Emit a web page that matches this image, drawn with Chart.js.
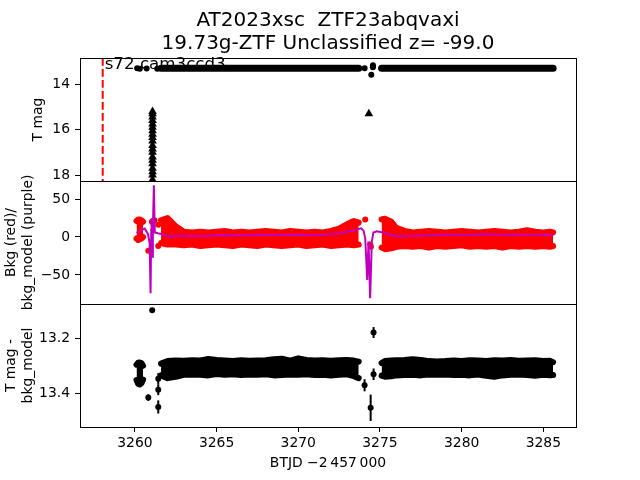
<!DOCTYPE html>
<html>
<head>
<meta charset="utf-8">
<script src="https://cdn.jsdelivr.net/npm/chart.js@4.4.0/dist/chart.umd.min.js"></script>
<style>
  html, body { margin: 0; padding: 0; background: #fff; }
  #wrap { position: relative; width: 640px; height: 480px; }
  #wrap canvas { position: absolute; left: 0; top: 0; }
</style>
</head>
<body>
<div id="wrap">
  <canvas id="c1" width="640" height="480"></canvas>
  <canvas id="c2" width="640" height="480"></canvas>
  <canvas id="c3" width="640" height="480"></canvas>
</div>
<script>
// axis ranges
const dayRange = [3256.64, 3287.0];
const magRange = [12.85, 18.26];
const bkgRange = [-88.2, 73.7];
const detRange = [13.075, 13.523];

const titleLines = ['AT2023xsc  ZTF23abqvaxi', '19.73g-ZTF Unclassified z= -99.0'];
const xTitle = 'BTJD \u22122\u2009457\u2009000';

// top panel: sector marker, photometry row, upper limits
const sectorDay = 3258.03;
const sectorLabel = 's72 cam3ccd3';
const sectorLabelAt = [3258.15, 13.33];
const rowDays = [3261.6, 3273.7, 3275.1, 3285.6];
const rowMag = [13.30, 13.30, 13.30, 13.30];
const dotDays = [3260.14, 3260.3, 3260.72, 3261.37, 3274.06, 3274.57, 3274.57, 3274.47];
const dotMag = [13.30, 13.32, 13.31, 13.32, 13.30, 13.17, 13.26, 13.59];
const limDays = [3261.08, 3261.08, 3261.08, 3261.08, 3261.08, 3261.08, 3261.08, 3261.08, 3261.08, 3261.08,
                 3261.08, 3261.08, 3261.08, 3261.08, 3261.08, 3261.08, 3261.08, 3261.08, 3261.08, 3261.08, 3274.32];
const limMag = [15.2, 15.3, 15.45, 15.6, 15.75, 15.9, 16.05, 16.2, 16.35, 16.5,
                16.7, 16.85, 17.0, 17.2, 17.35, 17.5, 17.7, 17.85, 18.0, 18.2, 15.3];

// envelopes of the dense scatter (two orbits)
const earlyDays = [3260.1, 3260.2, 3260.3, 3260.4, 3260.5];
const segADays = [3261.6, 3262.0, 3262.5, 3263.0, 3263.5, 3264.0, 3264.5, 3265.0, 3265.5, 3266.0, 3266.5, 3267.0, 3267.5,
                  3268.0, 3268.5, 3269.0, 3269.5, 3270.0, 3270.5, 3271.0, 3271.5, 3272.0, 3272.5, 3273.0, 3273.4, 3273.7];
const segBDays = [3275.1, 3275.3, 3275.7, 3276.0, 3276.5, 3277.0, 3277.5, 3278.0, 3278.5, 3279.0, 3279.5, 3280.0,
                  3280.5, 3281.0, 3281.5, 3282.0, 3282.5, 3283.0, 3283.5, 3284.0, 3284.5, 3285.0, 3285.4, 3285.6];

// middle panel: background (red) and model (purple)
const bkgEarlyTop = [21, 23, 23, 22, 20];
const bkgEarlyBot = [-2, -4, -3, -2, 0];
const bkgATop = [22, 25, 14, 7, 6, 7, 6, 7, 8, 6, 7, 6, 7, 8, 7, 6, 8, 7, 6, 7, 6, 8, 11, 17, 21, 19];
const bkgABot = [-8, -10, -10, -11, -10, -12, -11, -10, -11, -12, -10, -11, -12, -10, -11, -12, -11, -10, -12, -11, -10, -12, -11, -10, -11, -10];
const bkgBTop = [23, 24, 20, 12, 8, 6, 7, 8, 7, 6, 7, 8, 7, 6, 7, 8, 7, 6, 7, 9, 7, 6, 7, 6];
const bkgBBot = [-14, -16, -15, -13, -12, -13, -12, -14, -12, -13, -12, -11, -13, -12, -13, -12, -14, -12, -13, -12, -13, -12, -13, -12];
const bkgDotDays = [3260.82, 3261.04, 3261.2, 3261.43, 3261.43, 3274.1, 3274.4, 3274.45];
const bkgDotVals = [-18, 20, 22, -12, 16, 23, -10, -13];
const modelDays = [3260.1, 3260.4, 3260.6, 3260.8, 3260.9, 3260.96, 3261.0, 3261.02, 3261.06, 3261.1, 3261.16, 3261.22,
                   3261.4, 3261.7, 3262.1, 3262.6, 3263.5, 3264.5, 3265.5, 3266.5, 3267.5, 3268.5, 3269.5, 3270.5,
                   3271.5, 3272.2, 3272.8, 3273.4, 3273.86, 3274.0, 3274.1, 3274.22, 3274.3, 3274.4, 3274.5, 3274.6,
                   3274.8, 3275.2, 3275.6, 3276.0, 3276.6, 3277.5, 3278.5, 3279.5, 3280.5, 3281.5, 3282.5, 3283.5, 3284.5, 3285.6];
const modelVals = [5.5, 9, 11, 4, -8, -74, 10, 24.6, -26, 10, 68, 6,
                   5, 3.5, 0.5, 1.5, 1, 1.5, 2.5, 2, 3, 2.5, 3, 2.5,
                   3, 4, 6, 9, 11.4, 8, -2, -56.6, -6, -80.7, -6, 6,
                   7.5, 6, 3, 1, 1, 2, 2.5, 3, 3, 3.5, 3, 3, 3, 3];

// bottom panel: T mag - bkg_model
const detEarlyTop = [13.296, 13.289, 13.288, 13.29, 13.30];
const detEarlyBot = [13.352, 13.366, 13.368, 13.364, 13.35];
const detATop = [13.292, 13.283, 13.281, 13.282, 13.280, 13.281, 13.275, 13.279, 13.281, 13.283, 13.280, 13.282, 13.281,
                 13.280, 13.276, 13.274, 13.281, 13.273, 13.279, 13.281, 13.280, 13.282, 13.280, 13.279, 13.281, 13.285];
const detABot = [13.335, 13.345, 13.340, 13.333, 13.332, 13.333, 13.335, 13.330, 13.333, 13.331, 13.334, 13.332, 13.333,
                 13.331, 13.335, 13.334, 13.332, 13.333, 13.331, 13.334, 13.333, 13.335, 13.333, 13.331, 13.338, 13.345];
const detBTop = [13.29, 13.283, 13.281, 13.28, 13.279, 13.276, 13.279, 13.283, 13.284, 13.283, 13.281, 13.283,
                 13.28, 13.281, 13.283, 13.28, 13.281, 13.279, 13.282, 13.281, 13.28, 13.283, 13.282, 13.287];
const detBBot = [13.336, 13.34, 13.338, 13.335, 13.334, 13.333, 13.335, 13.332, 13.333, 13.332, 13.334, 13.333,
                 13.335, 13.332, 13.336, 13.34, 13.335, 13.333, 13.332, 13.334, 13.336, 13.333, 13.335, 13.334];
const detDotDays = [3261.06, 3260.82, 3261.43, 3261.43, 3261.43, 3274.06, 3274.43, 3274.61, 3274.61];
const detDotMag = [13.098, 13.416, 13.347, 13.387, 13.45, 13.371, 13.453, 13.179, 13.331];
const detDotErr = [0.003, 0.012, 0.02, 0.02, 0.024, 0.022, 0.048, 0.02, 0.021];

const RED = '#ff0000', PURPLE = '#bf00bf', BLACK = '#000000';
const FS = 13.9;

Chart.defaults.font.family = "'DejaVu Sans', sans-serif";
Chart.defaults.font.size = FS;
Chart.defaults.color = BLACK;

const pts = (xs, ys) => xs.map((x, i) => ({ x: x, y: ys[i] }));

function band(days, top, bot, color) {
  const line = { type: 'line', borderColor: color, backgroundColor: color, borderWidth: 6, pointRadius: 0,
                 tension: 0, borderJoinStyle: 'round', borderCapStyle: 'round', order: 2, clip: 0 };
  return [
    Object.assign({}, line, { data: pts(days, top), fill: false }),
    Object.assign({}, line, { data: pts(days, bot), fill: '-1' })
  ];
}

function dots(xs, ys, color, extra) {
  return Object.assign({ type: 'scatter', data: pts(xs, ys), backgroundColor: color, borderColor: color,
                         pointRadius: 3, borderWidth: 0, order: 1, clip: 0 }, extra || {});
}

const frame = {
  id: 'frame',
  afterDraw(chart) {
    const { ctx, chartArea: a } = chart;
    ctx.save();
    ctx.strokeStyle = BLACK;
    ctx.lineWidth = 1;
    ctx.strokeRect(a.left + 0.5, a.top + 0.5, a.right - a.left, a.bottom - a.top);
    ctx.restore();
  }
};

const errorBars = {
  id: 'errorBars',
  afterDatasetsDraw(chart) {
    const { ctx, scales: { x, y } } = chart;
    chart.data.datasets.forEach(ds => {
      if (!ds.errs) return;
      ctx.save();
      ctx.strokeStyle = ds.borderColor;
      ctx.lineWidth = 2;
      ds.data.forEach((p, j) => {
        const px = x.getPixelForValue(p.x);
        ctx.beginPath();
        ctx.moveTo(px, y.getPixelForValue(p.y - ds.errs[j]));
        ctx.lineTo(px, y.getPixelForValue(p.y + ds.errs[j]));
        ctx.stroke();
      });
      ctx.restore();
    });
  }
};

const sectorNote = {
  id: 'sectorNote',
  afterDatasetsDraw(chart) {
    const { ctx, scales: { x, y } } = chart;
    ctx.save();
    ctx.fillStyle = BLACK;
    ctx.font = "16.7px 'DejaVu Sans'";
    ctx.textAlign = 'left';
    ctx.textBaseline = 'alphabetic';
    ctx.fillText(sectorLabel, x.getPixelForValue(sectorLabelAt[0]), y.getPixelForValue(sectorLabelAt[1]));
    ctx.restore();
  }
};

function yAxis(range, reverse, step, fmt, title, titlePad) {
  return {
    type: 'linear', position: 'left', min: range[0], max: range[1], reverse: reverse,
    afterFit(s) { s.width = 80; },
    ticks: { stepSize: step, includeBounds: false, padding: 5, color: BLACK, callback: fmt },
    grid: { drawOnChartArea: false, drawTicks: true, tickLength: 5, color: BLACK },
    border: { display: false },
    title: { display: true, text: title, color: BLACK, font: { size: FS }, padding: { top: titlePad, bottom: 0 } }
  };
}

const hiddenX = { type: 'linear', display: false, min: dayRange[0], max: dayRange[1] };

function baseOptions(padTop, padBottom) {
  return {
    responsive: false, animation: false, events: [], devicePixelRatio: 1,
    layout: { padding: { top: padTop, right: 64, bottom: padBottom, left: 0 } },
    plugins: { legend: { display: false }, tooltip: { enabled: false }, title: { display: false } }
  };
}

// panel 1: T mag
const opt1 = baseOptions(0, 299);
opt1.plugins.title = {
  display: true, text: titleLines, fullSize: false, color: BLACK,
  font: { size: 20, weight: 'normal', lineHeight: 1.125 }, padding: { top: 10, bottom: 3 }
};
opt1.scales = { x: hiddenX, y: yAxis(magRange, true, 2, v => String(v), 'T mag', 29.7) };
new Chart(document.getElementById('c1'), {
  type: 'scatter',
  data: {
    datasets: [
      { type: 'line', data: pts([sectorDay, sectorDay], magRange), borderColor: RED, borderWidth: 2,
        borderDash: [7.7, 3.3], pointRadius: 0, fill: false, order: 3 },
      { type: 'line', data: pts(rowDays.slice(0, 2), rowMag.slice(0, 2)), borderColor: BLACK, borderWidth: 7,
        borderCapStyle: 'round', pointRadius: 0, fill: false, order: 2 },
      { type: 'line', data: pts(rowDays.slice(2), rowMag.slice(2)), borderColor: BLACK, borderWidth: 7,
        borderCapStyle: 'round', pointRadius: 0, fill: false, order: 2 },
      dots(dotDays, dotMag, BLACK),
      dots(limDays, limMag, BLACK, { pointStyle: 'triangle', pointRadius: 5 })
    ]
  },
  options: opt1,
  plugins: [frame, sectorNote]
});

// panel 2: background and model
const opt2 = baseOptions(181, 176);
opt2.scales = {
  x: hiddenX,
  y: yAxis(bkgRange, false, 50, v => (v < 0 ? '\u2212' + Math.abs(v) : String(v)),
           ['Bkg (red)/', 'bkg_model (purple)'], 3.4)
};
new Chart(document.getElementById('c2'), {
  type: 'scatter',
  data: {
    datasets: [
      { type: 'line', data: pts(modelDays, modelVals), borderColor: PURPLE, borderWidth: 2, pointRadius: 0,
        tension: 0, fill: false, order: 0 },
      ...band(earlyDays.slice(0, 5), bkgEarlyTop, bkgEarlyBot, RED),
      ...band(segADays, bkgATop, bkgABot, RED),
      ...band(segBDays, bkgBTop, bkgBBot, RED),
      dots(bkgDotDays, bkgDotVals, RED)
    ]
  },
  options: opt2,
  plugins: [frame]
});

// panel 3: T mag - bkg_model
const opt3 = baseOptions(304, 0);
opt3.scales = {
  x: {
    type: 'linear', position: 'bottom', min: dayRange[0], max: dayRange[1],
    afterFit(s) { s.height = 53; },
    ticks: { stepSize: 5, includeBounds: false, padding: 3.5, color: BLACK, maxRotation: 0, callback: v => String(v) },
    grid: { drawOnChartArea: false, drawTicks: true, tickLength: 5, color: BLACK },
    border: { display: false },
    title: { display: true, text: xTitle, color: BLACK, font: { size: FS }, padding: { top: 0, bottom: 8.7 } }
  },
  y: yAxis(detRange, true, 0.2, v => v.toFixed(1), ['T mag -', 'bkg_model'], 3.4)
};
new Chart(document.getElementById('c3'), {
  type: 'scatter',
  data: {
    datasets: [
      ...band(earlyDays, detEarlyTop, detEarlyBot, BLACK),
      ...band(segADays, detATop, detABot, BLACK),
      ...band(segBDays, detBTop, detBBot, BLACK),
      dots(detDotDays, detDotMag, BLACK, { errs: detDotErr })
    ]
  },
  options: opt3,
  plugins: [frame, errorBars]
});
</script>
</body>
</html>
